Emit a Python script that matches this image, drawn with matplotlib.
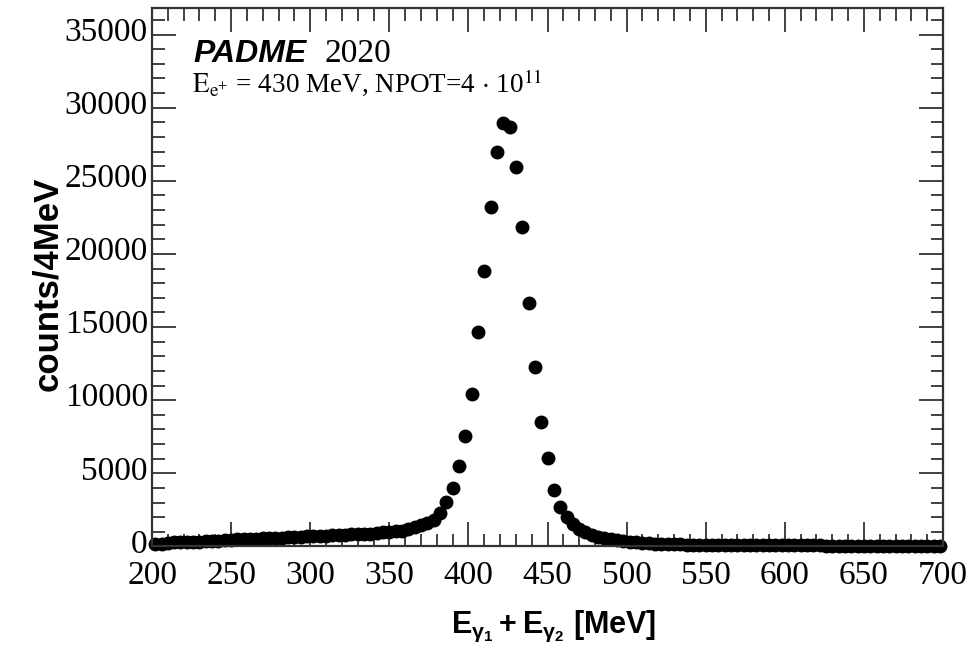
import numpy as np
import matplotlib
matplotlib.use("Agg")
import matplotlib.pyplot as plt
from matplotlib.ticker import MultipleLocator
from matplotlib.transforms import ScaledTranslation

plt.rcParams['mathtext.fontset'] = 'custom'
plt.rcParams['mathtext.rm'] = 'Liberation Sans:bold'
plt.rcParams['mathtext.bf'] = 'Liberation Sans:bold'
plt.rcParams['mathtext.it'] = 'Liberation Sans:bold'

# histogram binning (4 MeV bins from 200 to 700 MeV)
bin_lo = 200
bin_hi = 700
bin_width = 4
centers = np.arange(bin_lo + bin_width / 2, bin_hi, bin_width)

# counts per bin
tail_low = [160, 180, 220, 280, 300, 310, 320, 340, 350, 370,
            400, 430, 460, 480, 500, 510, 530, 550, 570, 590,
            610, 630, 650, 670, 690, 710, 730, 750, 770, 790,
            810, 830, 850, 870, 880, 920, 960, 1000, 1040, 1090,
            1180, 1300, 1440, 1600, 1810]           # 202 .. 378
peak = [2270, 3020, 3980, 5530, 7580, 10435, 14700, 18870, 23210, 26975,
        28960, 28685, 25950, 21840, 16640, 12300, 8500, 6035, 3866]  # 382 .. 454
tail_high = [2720, 2020, 1560, 1200, 960, 790, 660, 560, 480, 420,
             370, 330, 290, 250, 220, 200, 180, 160, 150, 140,
             130, 120, 110]                          # 458 .. 546
flat = [100, 95, 95, 90, 90, 88, 85, 85, 82, 80,
        80, 78, 78, 75, 75, 72, 72, 70, 70, 68,
        68, 65, 65, 62, 62, 60, 60, 58, 30, 20,
        20, 55, 55, 52, 52, 50, 50, 48]              # 550 .. 698
counts = np.array(tail_low + peak + tail_high + flat)

x_ticks = [200, 250, 300, 350, 400, 450, 500, 550, 600, 650, 700]
y_ticks = [0, 5000, 10000, 15000, 20000, 25000, 30000, 35000]

fig = plt.figure(figsize=(9.72, 6.53), dpi=100)
ax = fig.add_axes([0.1564, 0.1631, 0.8138, 0.8242])

ax.plot(centers, counts, 'o', color='black', markersize=9, clip_on=False)

ax.set_xlim(200, 700)
ax.set_ylim(0, 36800)
ax.set_xticks(x_ticks)
ax.set_yticks(y_ticks)
ax.xaxis.set_minor_locator(MultipleLocator(10))
ax.yaxis.set_minor_locator(MultipleLocator(1000))

frame_col = '#333333'
for s in ax.spines.values():
    s.set_linewidth(1.6)
    s.set_color(frame_col)
ax.tick_params(which='both', direction='in', top=True, right=True,
               color=frame_col, width=1.3)
ax.tick_params(which='major', length=17)
ax.tick_params(which='minor', length=9)
ax.tick_params(axis='x', pad=10)
ax.tick_params(axis='y', pad=3)
for lab in ax.get_xticklabels() + ax.get_yticklabels():
    lab.set_fontfamily('Liberation Serif')
    lab.set_fontsize(24)
# y labels sit a little above their ticks, as in ROOT output
up = ScaledTranslation(0, 4 / 72, fig.dpi_scale_trans)
for lab in ax.get_yticklabels():
    lab.set_transform(lab.get_transform() + up)

fig.text(0.049, 0.565, 'counts/4MeV', rotation=90, ha='center', va='center',
         family='Liberation Sans', fontweight='bold', fontsize=25)
fig.text(554 / 972, 1 - 633 / 653, r'$\mathbf{E_{\gamma_{1}}+E_{\gamma_{2}}}$ [MeV]',
         ha='center', va='baseline', family='Liberation Sans', fontweight='bold',
         fontsize=22, math_fontfamily='custom')

fig.text(193 / 972, 1 - 62 / 653, 'PADME', ha='left', va='baseline',
         family='Liberation Sans', fontweight='bold', style='italic', fontsize=23)
fig.text(324 / 972, 1 - 62 / 653, '2020', ha='left', va='baseline',
         family='Liberation Serif', fontsize=24)
fig.text(192 / 972, 1 - 92 / 653,
         r'$\mathrm{E_{e^{+}}}$ = 430 MeV, NPOT=4 $\cdot$ 10$^{11}$',
         ha='left', va='baseline', family='Liberation Serif', fontsize=19.5,
         math_fontfamily='stix')

fig.savefig('out.png', dpi=100)
